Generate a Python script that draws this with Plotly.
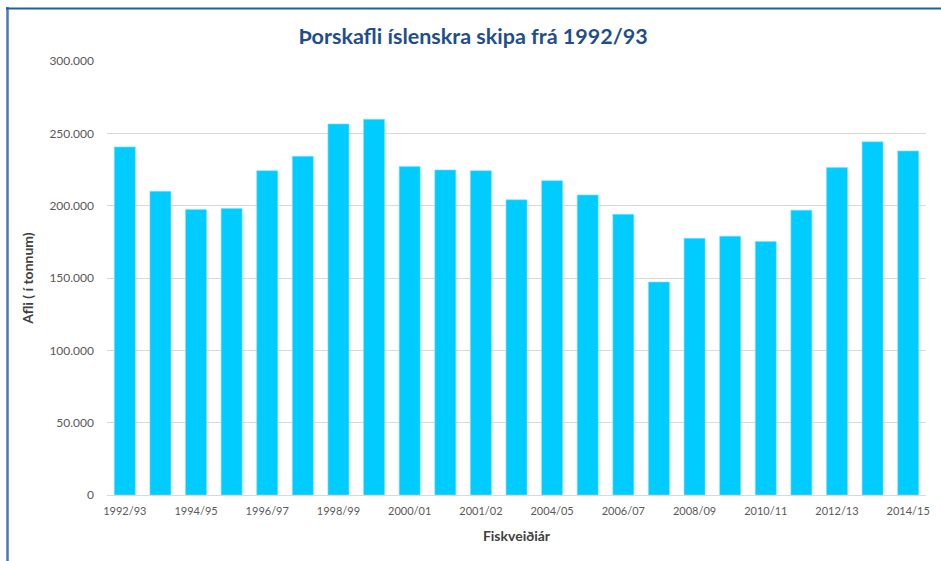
import plotly.graph_objects as go

seasons = ["1992/93", "1993/94", "1994/95", "1995/96", "1996/97", "1997/98",
           "1998/99", "1999/00", "2000/01", "2001/02a", "2001/02", "2003/04",
           "2004/05", "2005/06", "2006/07", "2007/08", "2008/09", "2009/10",
           "2010/11", "2011/12", "2012/13", "2013/14", "2014/15"]
catch_tonnes = [240600, 209900, 197400, 198100, 224200, 234100,
                256500, 259700, 227000, 224700, 224200, 204100,
                217300, 207400, 194000, 147200, 177400, 178900,
                175200, 196900, 226300, 244100, 237800]
tick_positions = ["1992/93", "1994/95", "1996/97", "1998/99", "2000/01", "2001/02",
                  "2004/05", "2006/07", "2008/09", "2010/11", "2012/13", "2014/15"]
tick_labels = ["1992/93", "1994/95", "1996/97", "1998/99", "2000/01", "2001/02",
               "2004/05", "2006/07", "2008/09", "2010/11", "2012/13", "2014/15"]
y_ticks = [0, 50000, 100000, 150000, 200000, 250000, 300000]

W, H = 941, 561
ml, mr, mt, mb = 107, 15, 61, 66
pw, ph = W - ml - mr, H - mt - mb

def px_x(p):
    return (p - ml) / pw

def px_y(p):
    return (H - mb - p) / ph

fig = go.Figure(go.Bar(
    x=seasons, y=catch_tonnes,
    marker=dict(color="#00CCFF", line=dict(color="#7FE0FF", width=0.6)),
))

fig.update_layout(
    width=W, height=H,
    margin=dict(l=ml, r=mr, t=mt, b=mb),
    paper_bgcolor="white", plot_bgcolor="white",
    separators=",.",
    bargap=0.41,
    showlegend=False,
    font=dict(family="Lato, Open Sans, sans-serif", color="#595959"),
    title=dict(text="<b>Þorskafli íslenskra skipa frá 1992/93</b>",
               x=473 / W, xref="container", xanchor="center",
               y=1 - 36 / H, yref="container", yanchor="middle",
               font=dict(size=21.5, color="#1F4E8C", family="Lato, Open Sans, sans-serif")),
    xaxis=dict(
        type="category",
        categoryorder="array", categoryarray=seasons,
        tickmode="array", tickvals=tick_positions, ticktext=tick_labels,
        tickfont=dict(size=11, color="#595959"),
        ticks="", ticklabelstandoff=6,
        showgrid=False,
        showline=True, linecolor="#D9D9D9", linewidth=1,
        title=dict(text="<b>Fiskveiðiár</b>", font=dict(size=14, color="#404040"), standoff=14),
    ),
    yaxis=dict(
        range=[0, 300000],
        tickmode="array", tickvals=y_ticks,
        tickformat=",d",
        tickfont=dict(size=12, color="#595959"),
        ticks="", ticklabelstandoff=12,
        showgrid=True, gridcolor="#D9D9D9", gridwidth=1,
        zeroline=False, showline=False,
        title=dict(text="<b>Afli ( í tonnum)</b>", font=dict(size=14, color="#404040"), standoff=12),
    ),
    shapes=[
        dict(type="line", xref="paper", yref="paper", layer="above",
             x0=px_x(7.5), x1=px_x(7.5), y0=px_y(7), y1=px_y(H + 2),
             line=dict(color="#4A78B0", width=2.5)),
        dict(type="line", xref="paper", yref="paper", layer="above",
             x0=px_x(6), x1=px_x(W + 2), y0=px_y(8.5), y1=px_y(8.5),
             line=dict(color="#1F5FA8", width=2)),
    ],
)

fig.write_html("out.html",
               config={"displayModeBar": False},
               post_script="document.body.style.margin='0';document.body.style.overflow='hidden';")
